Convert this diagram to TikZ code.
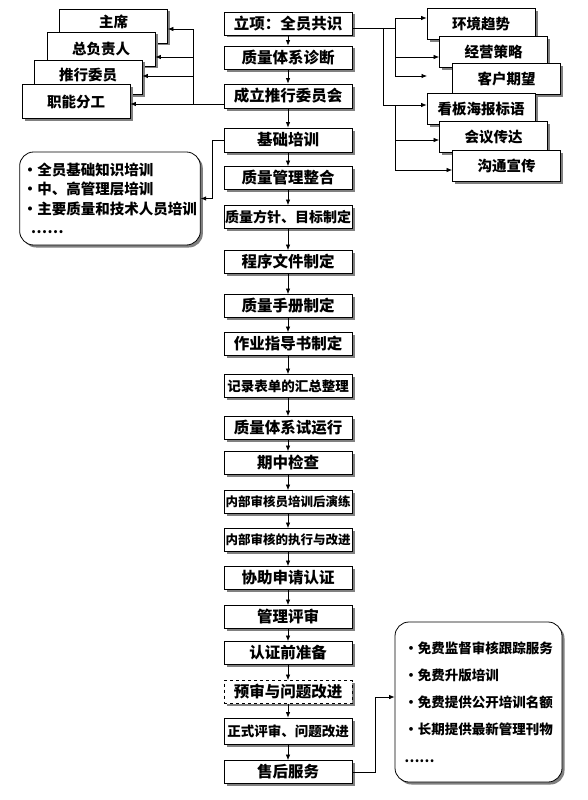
\documentclass[tikz,border=0pt]{standalone}
\usepackage{fontspec}
\setmainfont{Noto Sans CJK SC}
\usetikzlibrary{shadows, arrows.meta}

\tikzset{
  boxshadow/.style={drop shadow={shadow xshift=2.5pt, shadow yshift=-2.5pt, fill=black!50, opacity=1}},
  stepbox/.style={draw, line width=0.8pt, fill=white, boxshadow, minimum width=128pt, minimum height=23pt,
    inner sep=1pt, font=\fontsize{15.5}{17}\selectfont\bfseries},
  stackbox/.style={draw, line width=0.8pt, fill=white, boxshadow, minimum width=108pt, minimum height=34pt,
    inner sep=1pt, font=\fontsize{14.5}{17}\selectfont\bfseries},
  notebox/.style={draw, line width=0.8pt, fill=white, boxshadow, rounded corners=14pt, align=left},
  link/.style={line width=0.7pt},
}

\begin{document}
\begin{tikzpicture}[x=1pt, y=-1pt, >={Latex[length=5.5pt,width=4.5pt]}]
    \useasboundingbox (0,0) rectangle (587,800);

    % main column
    \node[stepbox] (s1)  at (288,23.5) {立项：全员共识};
    \node[stepbox] (s2)  at (288,57.5) {质量体系诊断};
    \node[stepbox, minimum height=24pt] (s3)  at (288,96)   {成立推行委员会};
    \node[stepbox, minimum height=24pt] (s4)  at (288,140)  {基础培训};
    \node[stepbox] (s5)  at (288,178)  {质量管理整合};
    \node[stepbox, font=\fontsize{14}{17}\selectfont\bfseries] (s6)  at (288,217)  {质量方针、目标制定};
    \node[stepbox] (s7)  at (288,262)  {程序文件制定};
    \node[stepbox] (s8)  at (288,306)  {质量手册制定};
    \node[stepbox] (s9)  at (288,344)  {作业指导书制定};
    \node[stepbox, font=\fontsize{13.5}{17}\selectfont\bfseries] (s10) at (288,386)  {记录表单的汇总整理};
    \node[stepbox] (s11) at (288,428)  {质量体系试运行};
    \node[stepbox] (s12) at (288,463)  {期中检查};
    \node[stepbox, font=\fontsize{12.5}{17}\selectfont\bfseries] (s13) at (288,502)  {内部审核员培训后演练};
    \node[stepbox, font=\fontsize{12.5}{17}\selectfont\bfseries] (s14) at (288,540)  {内部审核的执行与改进};
    \node[stepbox] (s15) at (288,578)  {协助申请认证};
    \node[stepbox] (s16) at (288,617)  {管理评审};
    \node[stepbox] (s17) at (288,653)  {认证前准备};
    \node[stepbox, dashed] (s18) at (288,692)  {预审与问题改进};
    \node[stepbox, minimum height=26pt, font=\fontsize{13.5}{17}\selectfont\bfseries] (s19) at (288,731)  {正式评审、问题改进};
    \node[stepbox] (s20) at (288,772)  {售后服务};

    \foreach \i in {1,...,19} {
        \pgfmathtruncatemacro{\j}{\i+1}
        \draw[link, ->] (s\i) -- (s\j);
    }

    % committee stack, left
    \node[stackbox, text depth=9pt] (zhuxi)   at (113.5,26)  {主席};
    \node[stackbox]                 (zongfu)  at (101,49)    {总负责人};
    \node[stackbox, text depth=5pt] (tuixing) at (88,77)     {推行委员};
    \node[stackbox]                 (zhineng) at (76,101.5)  {职能分工};

    \coordinate (la) at (193,104);
    \draw[link, ->] (s3.west |- la) -- (zhineng.east |- la);
    \draw[link, ->] (la) |- ([yshift=-3pt]zhuxi.east);
    \draw[link, ->] (la) |- ([yshift=-8pt]zongfu.east);
    \draw[link, ->] (la) |- ([yshift=1pt]tuixing.east);

    % awareness stack, right
    \node[stackbox, minimum height=31pt] (huanjing) at (481,24)    {环境趋势};
    \node[stackbox, minimum height=31pt] (jingying) at (493.5,52)  {经营策略};
    \node[stackbox, minimum height=31pt] (kehu)     at (506.5,79)  {客户期望};
    \node[stackbox, minimum height=31pt] (kanban)   at (481,109)   {看板海报标语};
    \node[stackbox, minimum height=31pt] (huiyi)    at (493.5,137) {会议传达};
    \node[stackbox, minimum height=31pt] (goutong)  at (506.5,166) {沟通宣传};

    \coordinate (ra) at (383,28);
    \coordinate (rb) at (395,28);
    \coordinate (rd) at (395,105);
    \draw[link] (s1.east |- ra) -- (rb);
    \draw[link, ->] (rb) |- ([yshift=6pt]huanjing.west);
    \draw[link, ->] (rb) |- ([yshift=-5pt]jingying.west);
    \draw[link, ->] (rb) |- ++(32,48);
    \draw[link, ->] (ra) |- ([yshift=4pt]kanban.west);
    \draw[link, ->] (rd) |- ([yshift=-3pt]huiyi.west);
    \draw[link, ->] (rd) |- ([yshift=-4pt]goutong.west);

    % training contents
    \node[notebox, minimum width=176pt, minimum height=93pt,
          font=\fontsize{14.5}{19.5}\selectfont\bfseries] (training) at (110,198.5)
          {·全员基础知识培训\\·中、高管理层培训\\·主要质量和技术人员培训\\\hspace{8pt}……};
    \draw[link, ->] (s4.west) -- ++(-11,0) |- (training.east);

    % after-sales services
    \node[notebox, minimum width=167pt, minimum height=160pt,
          font=\fontsize{13.5}{27.2}\selectfont\bfseries] (service) at (478.5,702)
          {·免费监督审核跟踪服务\\·免费升版培训\\·免费提供公开培训名额\\·长期提供最新管理刊物\\……};
    \draw[link, ->] (s20.east) -- ++(23,0) |- ([yshift=5pt]service.west);
\end{tikzpicture}
\end{document}
